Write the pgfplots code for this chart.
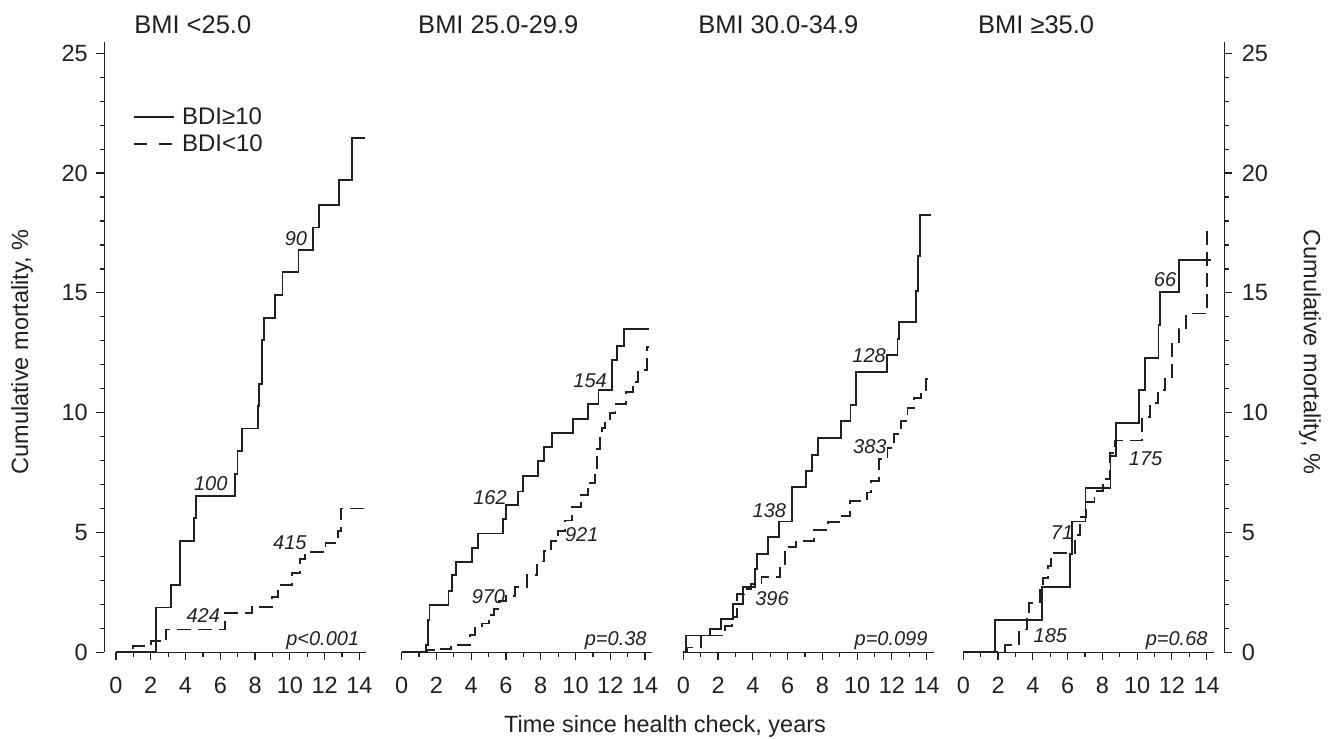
\documentclass[border=0pt]{standalone}
\usepackage{fontspec}
\setmainfont{Liberation Sans}
\usepackage{pgfplots}
\pgfplotsset{compat=1.18}
\definecolor{ink}{HTML}{231F20}
\newcommand\fs[1]{\fontsize{#1}{#1}\selectfont}

\pgfplotsset{
  kmpanel/.style={
    scale only axis, width=250.3pt, height=599pt,
    anchor=south west,
    xmin=0, xmax=14.4, ymin=0, ymax=25,
    axis x line*=bottom, axis y line=none, ytick=\empty,
    xtick={0,2,...,14}, minor x tick num=1,
    tick align=outside, major tick length=7.7pt, minor tick length=4.3pt,
    axis line style={line width=1.4pt, ink},
    tick style={line width=1.2pt, ink},
    tick label style={font=\fs{23.5}, text=ink},
    /pgf/number format/assume math mode=true,
    xticklabel style={yshift=-14pt},
    clip=false,
  },
  yside/.style={
    scale only axis, width=10pt, height=609.8pt,
    anchor=south west,
    xmin=0, xmax=1, ymin=0, ymax=25.45,
    axis x line=none, xtick=\empty,
    ytick={0,5,...,25}, minor y tick num=4,
    tick align=outside, major tick length=8pt, minor tick length=4.5pt,
    axis line style={line width=1.4pt, ink},
    tick style={line width=1.2pt, ink},
    tick label style={font=\fs{23.5}, text=ink},
    /pgf/number format/assume math mode=true,
  },
  km/.style={const plot, line width=1.9pt, ink, no marks},
  kmd/.style={const plot, line width=1.9pt, ink, no marks, dash pattern=on 14pt off 7pt,
    legend image post style={dash pattern=on 13pt off 12pt}},
}
\tikzset{
  ann/.style={font=\fs{20}\itshape, text=ink, inner sep=0pt},
  ttl/.style={font=\fs{25.5}, text=ink, anchor=base west, inner sep=0pt},
}

\begin{document}
\begin{tikzpicture}
\path[use as bounding box] (0pt,0pt) rectangle (1331pt,739pt);

% left and right y axes
\begin{axis}[yside, at={(104.3pt,86.7pt)}, axis y line*=left,
  yticklabel style={xshift=-5pt}]
  \addplot[draw=none] coordinates {(0,0)};
\end{axis}
\begin{axis}[yside, at={(1214.3pt,86.7pt)}, axis y line*=right,
  yticklabel style={xshift=6pt}]
  \addplot[draw=none] coordinates {(0,0)};
\end{axis}

% BMI < 25.0
\begin{axis}[kmpanel, at={(116pt,86.7pt)},
  legend image code/.code={\draw[#1] (0pt,0pt) -- (40pt,0pt);},
  legend style={at={(rel axis cs:0.068,0.913)}, anchor=north west, draw=none, fill=none,
    font=\fs{24}, text=ink, row sep=5pt, inner sep=0pt,
    /tikz/every odd column/.append style={column sep=5pt}},
  legend cell align=left]
  \addplot[km] coordinates {(0,0) (2.3,1.87) (3.18,2.8) (3.7,4.65) (4.49,5.59) (4.59,6.52)
    (6.84,7.46) (6.99,8.40) (7.26,9.34) (8.15,10.27) (8.25,11.21) (8.38,13.05) (8.52,13.97)
    (9.15,14.92) (9.58,15.86) (10.5,16.80) (11.33,17.73) (11.66,18.67) (12.85,19.73)
    (13.58,21.48) (14.3,21.48)};
  \addlegendentry{BDI≥10}
  \addplot[kmd] coordinates {(0,0) (1.0,0.26) (2.0,0.48) (2.9,0.95) (6.26,1.63) (7.8,1.9)
    (9.0,2.3) (9.3,2.8) (10.1,3.3) (10.6,3.88) (10.85,4.17) (12.05,4.57) (12.75,5.08)
    (12.95,6.0) (14.3,6.0)};
  \addlegendentry{BDI<10}
  \node[ttl] at (axis cs:1.04,25.82) {BMI <25.0};
  \node[ann] at (axis cs:10.35,17.26) {90};
  \node[ann] at (axis cs:5.45,7.05) {100};
  \node[ann] at (axis cs:5.02,1.55) {424};
  \node[ann] at (axis cs:10.0,4.57) {415};
  \node[ann, anchor=base east] at (axis cs:14.0,0.3) {p<0.001};
\end{axis}

% BMI 25.0-29.9
\begin{axis}[kmpanel, at={(401.7pt,86.7pt)}]
  \addplot[km] coordinates {(0,0) (1.4,0.3) (1.5,1.36) (1.6,1.97) (2.69,2.57) (2.88,3.21)
    (3.13,3.76) (4.03,4.36) (4.37,4.96) (5.85,5.57) (5.98,6.14) (6.71,6.71) (6.96,7.36)
    (7.83,7.97) (8.19,8.57) (8.63,9.17) (9.84,9.74) (10.74,10.36) (11.32,10.96)
    (12.12,12.21) (12.41,12.79) (12.81,13.5) (14.25,13.5)};
  \addplot[kmd] coordinates {(0,0) (1.45,0.08) (2.0,0.15) (2.85,0.31) (3.93,0.71) (4.2,1.0)
    (4.6,1.2) (5.0,1.57) (5.3,1.79) (5.6,2.14) (6.0,2.36) (6.5,2.71) (7.2,3.21) (7.8,3.79)
    (8.2,4.21) (8.6,4.64) (9.0,5.07) (9.4,5.5) (9.8,6.07) (10.3,6.57) (10.7,7.07)
    (11.1,7.67) (11.25,8.5) (11.4,8.93) (11.5,9.36) (11.7,9.64) (12.0,10.0) (12.3,10.36)
    (12.9,10.86) (13.3,11.29) (13.6,11.79) (14.1,12.74) (14.25,12.74)};
  \node[ttl] at (axis cs:0.94,25.82) {BMI 25.0-29.9};
  \node[ann] at (axis cs:10.84,11.33) {154};
  \node[ann] at (axis cs:5.08,6.47) {162};
  \node[ann] at (axis cs:10.36,4.93) {921};
  \node[ann] at (axis cs:4.99,2.33) {970};
  \node[ann, anchor=base east] at (axis cs:14.1,0.3) {p=0.38};
\end{axis}

% BMI 30.0-34.9
\begin{axis}[kmpanel, at={(683.3pt,86.7pt)}]
  \addplot[km] coordinates {(0,0) (0.15,0.7) (1.54,0.97) (2.16,1.39) (2.85,2.0) (3.43,2.74)
    (4.14,3.47) (4.24,4.1) (4.85,4.8) (5.49,5.46) (6.26,6.9) (7.07,7.57) (7.41,8.24)
    (7.74,8.96) (9.05,9.67) (9.62,10.32) (9.92,11.68) (11.71,12.4) (12.32,13.07)
    (12.42,13.77) (13.38,15.09) (13.52,16.55) (13.63,18.26) (14.25,18.26)};
  \addplot[kmd] coordinates {(0,0) (0.2,0.2) (1.0,0.7) (2.4,1.1) (2.79,1.46) (3.08,2.43)
    (3.47,2.64) (3.89,2.85) (4.5,3.15) (5.58,3.68) (5.87,4.38) (6.5,4.65) (7.5,5.1)
    (8.3,5.42) (9.05,5.7) (9.6,6.32) (10.59,6.67) (10.8,7.15) (11.27,8.06) (11.75,8.54)
    (12.13,9.1) (12.5,9.65) (12.9,10.2) (13.29,10.6) (13.67,10.9) (13.96,11.4)
    (14.25,11.4)};
  \node[ttl] at (axis cs:0.85,25.82) {BMI 30.0-34.9};
  \node[ann] at (axis cs:10.69,12.39) {128};
  \node[ann] at (axis cs:10.73,8.57) {383};
  \node[ann] at (axis cs:4.95,5.93) {138};
  \node[ann] at (axis cs:5.1,2.22) {396};
  \node[ann, anchor=base east] at (axis cs:14.06,0.3) {p=0.099};
\end{axis}

% BMI >= 35.0
\begin{axis}[kmpanel, at={(963.3pt,86.7pt)}]
  \addplot[km] coordinates {(0,0) (1.83,1.36) (4.53,2.72) (6.12,4.11) (6.26,5.46)
    (7.03,6.85) (8.47,8.18) (8.81,9.57) (10.11,10.93) (10.46,12.28) (11.23,13.65)
    (11.3,15.04) (12.42,16.39) (14.25,16.39)};
  \addplot[kmd] coordinates {(0,0) (2.4,0.3) (3.2,0.95) (3.65,1.6) (3.8,2.05) (4.4,2.6)
    (4.6,3.1) (4.85,3.6) (5.05,4.14) (6.4,4.9) (6.7,5.64) (7.05,6.27) (7.55,6.73)
    (8.05,7.24) (8.45,8.31) (8.7,8.84) (10.3,9.82) (10.75,10.4) (11.2,10.93) (11.6,11.49)
    (12.0,12.95) (12.4,13.5) (12.8,14.14) (14.0,17.7) (14.25,17.7)};
  \node[ttl] at (axis cs:0.84,25.82) {BMI ≥35.0};
  \node[ann] at (axis cs:11.61,15.56) {66};
  \node[ann] at (axis cs:10.49,8.08) {175};
  \node[ann] at (axis cs:5.68,5.01) {71};
  \node[ann] at (axis cs:5.01,0.7) {185};
  \node[ann, anchor=base east] at (axis cs:14.06,0.3) {p=0.68};
\end{axis}

% axis titles
\node[rotate=90, font=\fs{23.5}, text=ink] at (22pt,387pt) {Cumulative mortality, \%};
\node[rotate=-90, font=\fs{23.5}, text=ink] at (1310pt,387pt) {Cumulative mortality, \%};
\node[anchor=base west, font=\fs{23.5}, text=ink, inner sep=0pt] at (504pt,6pt) {Time since health check, years};
\end{tikzpicture}
\end{document}
